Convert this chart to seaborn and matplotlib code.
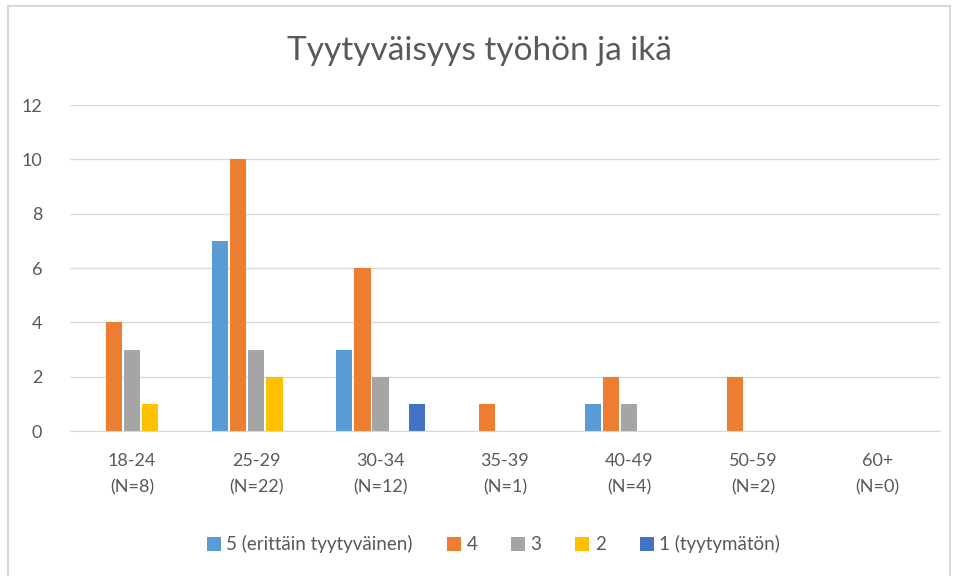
import matplotlib
matplotlib.use("Agg")
import matplotlib.pyplot as plt
import seaborn as sns
import pandas as pd
from matplotlib.patches import Rectangle

# Data
ikaryhmat = ["18-24\n(N=8)", "25-29\n(N=22)", "30-34\n(N=12)", "35-39\n(N=1)",
             "40-49\n(N=4)", "50-59\n(N=2)", "60+\n(N=0)"]
sarjat = ["5 (erittäin tyytyväinen)", "4", "3", "2", "1 (tyytymätön)"]
arvot_5 = [0, 7, 3, 0, 1, 0, 0]
arvot_4 = [4, 10, 6, 1, 2, 2, 0]
arvot_3 = [3, 3, 2, 0, 1, 0, 0]
arvot_2 = [1, 2, 0, 0, 0, 0, 0]
arvot_1 = [0, 0, 1, 0, 0, 0, 0]
varit = ["#5B9BD5", "#ED7D31", "#A5A5A5", "#FFC000", "#4472C4"]

rows = []
for nimi, vals in zip(sarjat, [arvot_5, arvot_4, arvot_3, arvot_2, arvot_1]):
    for ika, v in zip(ikaryhmat, vals):
        rows.append({"ika": ika, "sarja": nimi, "lkm": v})
df = pd.DataFrame(rows)

sns.set_style("white")
plt.rcParams["font.family"] = ["Lato", "DejaVu Sans"]
txt = "#595959"

fig = plt.figure(figsize=(9.58, 5.76), dpi=100)
ax = fig.add_axes([0.073, 0.2517, 0.908, 0.566])

sns.barplot(data=df, x="ika", y="lkm", hue="sarja", hue_order=sarjat,
            order=ikaryhmat, palette=varit, width=0.73, gap=0.1,
            saturation=1, linewidth=0, ax=ax, legend=True)

ax.set_ylim(0, 12)
ax.set_xlim(-0.5, 6.5)
ax.set_yticks(range(0, 13, 2))
ax.yaxis.grid(True, color="#D9D9D9", linewidth=1)
ax.set_axisbelow(True)
for s in ["top", "right", "left"]:
    ax.spines[s].set_visible(False)
ax.spines["bottom"].set_color("#D9D9D9")
ax.tick_params(axis="both", length=0, labelsize=13, colors=txt)
ax.tick_params(axis="x", pad=16)
ax.tick_params(axis="y", pad=20)
for t in ax.get_xticklabels():
    t.set_linespacing(1.75)
ax.set_xlabel("")
ax.set_ylabel("")

fig.suptitle("Tyytyväisyys työhön ja ikä", y=0.937, fontsize=24, color=txt)

h, l = ax.get_legend_handles_labels()
ax.get_legend().remove()
fig.legend(h, l, loc="center", bbox_to_anchor=(0.515, 0.055), ncol=5,
           frameon=False, fontsize=13.5, labelcolor=txt, handlelength=0.75,
           handleheight=0.75, handletextpad=0.3, columnspacing=1.8)

fig.patches.append(Rectangle((8 / 958, -0.01), 942 / 958, 1 - 6 / 576 + 0.01,
                             transform=fig.transFigure, fill=False,
                             edgecolor="#D9D9D9", linewidth=1.5))

fig.savefig("out.png", dpi=100)
